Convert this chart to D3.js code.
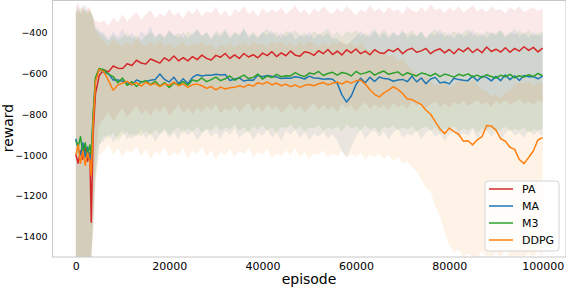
<!DOCTYPE html>
<html>
<head>
<meta charset="utf-8">
<script src="https://cdn.jsdelivr.net/npm/d3@7"></script>
<style>
	body { margin:0; background:#fff; }
	svg { display:block; font-family:'DejaVu Sans', sans-serif; }
</style>
</head>
<body>
<svg id="chart"></svg>
<script>
let _width = 566
let _height = 290
let _margin = {top:0.5, right:0, bottom:33, left:52.5}

let names = ['PA','MA','M3','DDPG']
let cols = ['#d62728','#1f77b4','#2ca02c','#ff7f0e']

let xTicks = [0,20000,40000,60000,80000,100000]
let yTicks = [-1400,-1200,-1000,-800,-600,-400]

// episodes (first few are the messy start), then one point per 1000
let episodes = [0,500,1000,1500,2000,2500,3000,3300,3700,4200,5000]
	.concat(d3.range(6000,100001,1000))

// mean reward of each method
let pa = [-1000,-1040,-980,-1020,-960,-1030,-990,-1330,-900,-700,-610,
	-582,-592,-563,-574,-576,-552,-561,-535,-549,-554,
	-529,-539,-549,-523,-538,-514,-538,-522,-538,-517,
	-532,-510,-526,-534,-511,-520,-502,-526,-509,-526,
	-502,-519,-508,-523,-500,-512,-493,-517,-499,-513,
	-490,-510,-515,-493,-498,-511,-488,-503,-482,-507,
	-490,-509,-484,-499,-480,-503,-490,-508,-483,-498,
	-502,-483,-493,-477,-503,-484,-476,-496,-489,-477,
	-503,-487,-479,-499,-482,-503,-479,-493,-474,-497,
	-480,-498,-470,-492,-481,-495,-474,-496,-477,-490,
	-469,-487,-472,-494,-476]

let ma = [-920,-970,-1000,-940,-1010,-960,-1020,-1000,-820,-630,-580,
	-594,-602,-632,-632,-638,-646,-655,-632,-641,-639,
	-633,-629,-603,-629,-642,-618,-650,-626,-650,-619,
	-606,-612,-608,-609,-604,-607,-605,-634,-627,-622,
	-637,-632,-633,-609,-616,-610,-614,-617,-625,-622,
	-623,-616,-620,-627,-613,-622,-623,-628,-626,-628,
	-648,-705,-740,-710,-655,-623,-645,-619,-639,-617,
	-625,-627,-638,-632,-629,-640,-613,-641,-622,-650,
	-627,-619,-646,-642,-651,-623,-630,-633,-635,-613,
	-636,-614,-619,-636,-614,-635,-607,-630,-611,-634,
	-610,-616,-615,-626,-613]

let m3 = [-930,-960,-910,-990,-940,-1000,-950,-1000,-800,-620,-575,
	-582,-603,-615,-645,-622,-658,-640,-664,-642,-636,
	-655,-638,-662,-644,-668,-647,-655,-640,-657,-632,
	-638,-622,-640,-630,-618,-635,-626,-612,-633,-620,
	-608,-625,-619,-603,-628,-612,-620,-604,-616,-611,
	-612,-596,-608,-615,-598,-603,-590,-610,-600,-594,
	-608,-595,-600,-612,-590,-603,-597,-589,-608,-596,
	-588,-604,-598,-592,-610,-596,-605,-612,-598,-603,
	-612,-600,-615,-603,-609,-618,-604,-611,-602,-616,
	-608,-620,-606,-615,-622,-609,-616,-604,-621,-611,
	-617,-606,-615,-600,-612]

let ddpg = [-1000,-950,-1040,-980,-1050,-990,-1030,-1100,-850,-640,-580,
	-592,-635,-682,-656,-648,-638,-655,-645,-662,-643,
	-657,-648,-664,-650,-658,-642,-660,-651,-668,-655,
	-652,-660,-673,-664,-680,-667,-676,-670,-668,-660,
	-667,-655,-662,-645,-652,-642,-655,-647,-660,-652,
	-664,-656,-668,-658,-654,-660,-650,-644,-656,-648,
	-642,-652,-638,-647,-636,-632,-652,-680,-702,-715,
	-695,-682,-665,-678,-698,-725,-728,-740,-752,-780,
	-800,-836,-872,-895,-868,-885,-898,-932,-930,-950,
	-925,-910,-855,-858,-878,-920,-932,-962,-972,-1022,
	-1042,-1012,-980,-925,-915]

// spread of the runs (upper / lower edge of the shading), same episodes
let paHi = [-270,-250,-290,-260,-300,-270,-280,-300,-320,-340,-350,
	-340,-365,-325,-350,-310,-345,-320,-300,-335,-310,
	-290,-330,-305,-320,-285,-315,-300,-330,-290,-310,
	-280,-320,-295,-305,-275,-315,-290,-325,-285,-300,
	-270,-310,-290,-320,-280,-305,-285,-300,-275,-310,
	-290,-265,-305,-285,-315,-280,-300,-270,-295,-310,
	-280,-300,-270,-290,-315,-285,-300,-265,-295,-280,
	-305,-275,-295,-285,-310,-270,-290,-300,-275,-295,
	-260,-290,-280,-305,-275,-295,-270,-300,-285,-265,
	-295,-280,-300,-270,-290,-285,-305,-275,-290,-270,
	-300,-285,-275,-295,-280]
let paLo = [-1500,-1500,-1500,-1500,-1500,-1500,-1500,-1500,-1300,-1000,-850,
	-820,-790,-835,-800,-770,-815,-785,-760,-800,-775,
	-810,-770,-790,-760,-805,-780,-755,-795,-770,-800,
	-765,-790,-760,-780,-750,-795,-770,-785,-755,-790,
	-765,-745,-785,-760,-790,-750,-775,-760,-795,-770,
	-750,-780,-760,-790,-765,-745,-780,-755,-775,-760,
	-790,-750,-770,-755,-785,-760,-740,-775,-750,-770,
	-755,-780,-745,-765,-750,-775,-740,-760,-745,-770,
	-750,-735,-765,-745,-770,-740,-755,-735,-760,-745,
	-730,-755,-740,-765,-735,-750,-730,-755,-740,-725,
	-750,-735,-755,-730,-745]

let maHi = [-300,-270,-310,-280,-260,-300,-290,-310,-330,-370,-390,
	-400,-430,-395,-420,-380,-425,-400,-435,-390,-415,
	-370,-420,-400,-430,-385,-410,-425,-395,-430,-405,
	-380,-420,-395,-435,-405,-420,-390,-430,-400,-415,
	-375,-425,-405,-430,-395,-415,-385,-425,-400,-420,
	-390,-435,-410,-420,-395,-430,-405,-420,-400,-430,
	-430,-450,-460,-440,-420,-390,-420,-405,-380,-425,
	-400,-430,-395,-415,-385,-425,-405,-420,-390,-430,
	-400,-415,-380,-425,-400,-430,-395,-420,-405,-385,
	-425,-400,-430,-395,-415,-390,-425,-405,-380,-420,
	-400,-425,-395,-415,-405]
let maLo = [-1500,-1500,-1500,-1500,-1500,-1500,-1500,-1500,-1350,-1100,-950,
	-930,-895,-940,-905,-880,-925,-895,-910,-875,-920,
	-890,-935,-900,-880,-915,-890,-925,-870,-905,-885,
	-930,-895,-875,-910,-890,-920,-880,-900,-870,-915,
	-895,-880,-925,-890,-905,-875,-915,-890,-930,-880,
	-900,-875,-915,-890,-925,-895,-910,-885,-920,-895,
	-930,-980,-1010,-960,-910,-875,-920,-890,-880,-910,
	-885,-925,-890,-870,-915,-895,-905,-880,-920,-890,
	-875,-910,-895,-930,-900,-880,-915,-890,-905,-875,
	-920,-890,-880,-910,-885,-925,-895,-870,-905,-890,
	-915,-880,-900,-885,-910]

let m3Hi = [-290,-310,-270,-300,-280,-310,-290,-300,-320,-380,-400,
	-415,-440,-410,-435,-420,-400,-430,-410,-440,-415,
	-395,-425,-405,-420,-390,-415,-400,-430,-395,-410,
	-385,-415,-400,-425,-390,-405,-380,-420,-395,-410,
	-385,-415,-395,-420,-400,-380,-410,-395,-425,-390,
	-405,-385,-415,-400,-420,-390,-410,-395,-380,-415,
	-395,-420,-390,-405,-385,-415,-400,-425,-390,-410,
	-380,-415,-400,-420,-395,-405,-385,-415,-395,-425,
	-400,-385,-410,-395,-420,-390,-410,-400,-380,-415,
	-395,-420,-390,-405,-400,-385,-415,-395,-410,-390,
	-405,-385,-415,-400,-395]
let m3Lo = [-1500,-1500,-1500,-1500,-1500,-1500,-1500,-1500,-1350,-1100,-950,
	-905,-920,-890,-930,-900,-885,-920,-895,-910,-880,
	-905,-875,-895,-870,-900,-880,-865,-895,-870,-885,
	-860,-890,-870,-880,-855,-885,-865,-875,-850,-880,
	-865,-890,-860,-875,-855,-880,-865,-890,-860,-870,
	-850,-875,-860,-885,-865,-870,-855,-880,-865,-875,
	-860,-885,-850,-870,-860,-880,-855,-875,-865,-890,
	-860,-870,-855,-880,-865,-875,-860,-885,-870,-860,
	-880,-865,-890,-870,-875,-860,-885,-870,-880,-865,
	-890,-870,-880,-865,-885,-875,-860,-885,-870,-880,
	-865,-890,-875,-880,-870]

let ddpgHi = [-300,-280,-310,-270,-300,-290,-280,-310,-340,-390,-420,
	-440,-465,-435,-455,-470,-445,-460,-430,-455,-470,
	-445,-460,-440,-465,-450,-475,-455,-445,-470,-450,
	-460,-440,-465,-455,-480,-460,-470,-450,-475,-455,
	-445,-465,-440,-460,-450,-470,-445,-455,-440,-465,
	-450,-470,-445,-460,-440,-455,-470,-450,-465,-445,
	-455,-440,-460,-450,-470,-445,-475,-490,-480,-500,
	-490,-515,-510,-540,-525,-560,-580,-600,-620,-610,
	-640,-660,-650,-640,-670,-655,-640,-625,-650,-630,
	-660,-680,-690,-710,-700,-720,-695,-680,-660,-640,
	-650,-635,-660,-645,-650]
let ddpgLo = [-1500,-1500,-1500,-1500,-1500,-1500,-1500,-1500,-1400,-1150,-1000,
	-980,-950,-1000,-965,-1010,-975,-990,-955,-1005,-970,
	-1020,-980,-995,-960,-1010,-985,-1000,-965,-1015,-980,
	-995,-960,-1005,-975,-1020,-985,-1000,-970,-1010,-980,
	-995,-965,-1010,-985,-1000,-970,-1015,-990,-1005,-975,
	-1000,-965,-1010,-985,-1020,-990,-1000,-975,-1010,-990,
	-1005,-980,-1015,-995,-1010,-985,-1020,-1000,-1010,-995,
	-1020,-1000,-1030,-1010,-1040,-1030,-1060,-1080,-1120,-1160,
	-1180,-1250,-1300,-1380,-1440,-1480,-1460,-1500,-1480,-1500,
	-1500,-1470,-1500,-1500,-1480,-1500,-1460,-1500,-1500,-1490,
	-1500,-1480,-1500,-1470,-1500]

let means = [pa,ma,m3,ddpg]
let highs = [paHi,maHi,m3Hi,ddpgHi]
let lows = [paLo,maLo,m3Lo,ddpgLo]

const draw_chart = ()=>{
	const svg = d3.select('#chart')
		.attr('width',_width)
		.attr('height',_height)

	const x = d3.scaleLinear()
		.domain([-5000,105000])
		.range([_margin.left,_width - _margin.right])

	const y = d3.scaleLinear()
		.domain([-1500,-242])
		.range([_height - _margin.bottom,_margin.top])

	svg.append('clipPath')
		.attr('id','plotclip')
		.append('rect')
		.attr('x',x.range()[0])
		.attr('y',y.range()[1])
		.attr('width',x.range()[1] - x.range()[0])
		.attr('height',y.range()[0] - y.range()[1])

	const plot = svg.append('g').attr('clip-path','url(#plotclip)')

	// bands first
	names.forEach((n,k)=>{
		const pts = episodes.map((e,i)=>[e,lows[k][i],highs[k][i]])
		plot.append('path')
			.datum(pts)
			.attr('fill',cols[k])
			.attr('fill-opacity',0.1)
			.attr('d',d3.area()
				.x(d=>x(d[0]))
				.y0(d=>y(d[1]))
				.y1(d=>y(d[2]))
			)
	})

	names.forEach((n,k)=>{
		plot.append('path')
			.datum(episodes.map((e,i)=>[e,means[k][i]]))
			.attr('fill','none')
			.attr('stroke',cols[k])
			.attr('stroke-width',1.5)
			.attr('stroke-linejoin','round')
			.attr('d',d3.line().x(d=>x(d[0])).y(d=>y(d[1])))
	})

	// axes, no tick marks, light spines
	const xAxis = svg.append('g')
		.attr('transform',`translate(0,${y.range()[0]})`)
		.call(d3.axisBottom(x).tickValues(xTicks).tickSize(0).tickPadding(5).tickFormat(d3.format('d')))
	xAxis.selectAll('text').attr('font-size',11).attr('fill','#000').attr('font-family','DejaVu Sans')

	const yAxis = svg.append('g')
		.attr('transform',`translate(${x.range()[0]},0)`)
		.call(d3.axisLeft(y).tickValues(yTicks).tickSize(0).tickPadding(5).tickFormat(d=>'\u2212' + Math.abs(d)))
	yAxis.selectAll('text').attr('font-size',9.5).attr('fill','#000').attr('font-family','DejaVu Sans')

	svg.selectAll('.domain').remove()

	svg.append('rect')
		.attr('x',x.range()[0])
		.attr('y',y.range()[1])
		.attr('width',x.range()[1] - x.range()[0])
		.attr('height',y.range()[0] - y.range()[1])
		.attr('fill','none')
		.attr('stroke','#c8c8c8')
		.attr('stroke-width',1)

	svg.append('text')
		.attr('x',309)
		.attr('y',284)
		.attr('text-anchor','middle')
		.attr('font-size',14)
		.text('episode')

	svg.append('text')
		.attr('transform','translate(13,128) rotate(-90)')
		.attr('text-anchor','middle')
		.attr('font-size',14)
		.text('reward')

	/*legend*/
	const legend = svg.append('g').attr('transform','translate(485,181)')
	legend.append('rect')
		.attr('width',74)
		.attr('height',70)
		.attr('rx',3)
		.attr('fill','#fff')
		.attr('fill-opacity',0.8)
		.attr('stroke','#d5d5d5')

	const legendG = legend.selectAll('.legend')
		.data(names)
		.enter()
		.append('g')
		.classed('legend',true)
		.attr('transform',(d,i)=>`translate(0,${8 + i * 17})`)

	legendG.append('line')
		.attr('x1',4)
		.attr('x2',28)
		.attr('stroke',(d,i)=>cols[i])
		.attr('stroke-width',1.5)

	legendG.append('text')
		.attr('x',37)
		.attr('y','0.36em')
		.attr('font-size',11)
		.text(d=>d)
}

draw_chart()
</script>
</body>
</html>
